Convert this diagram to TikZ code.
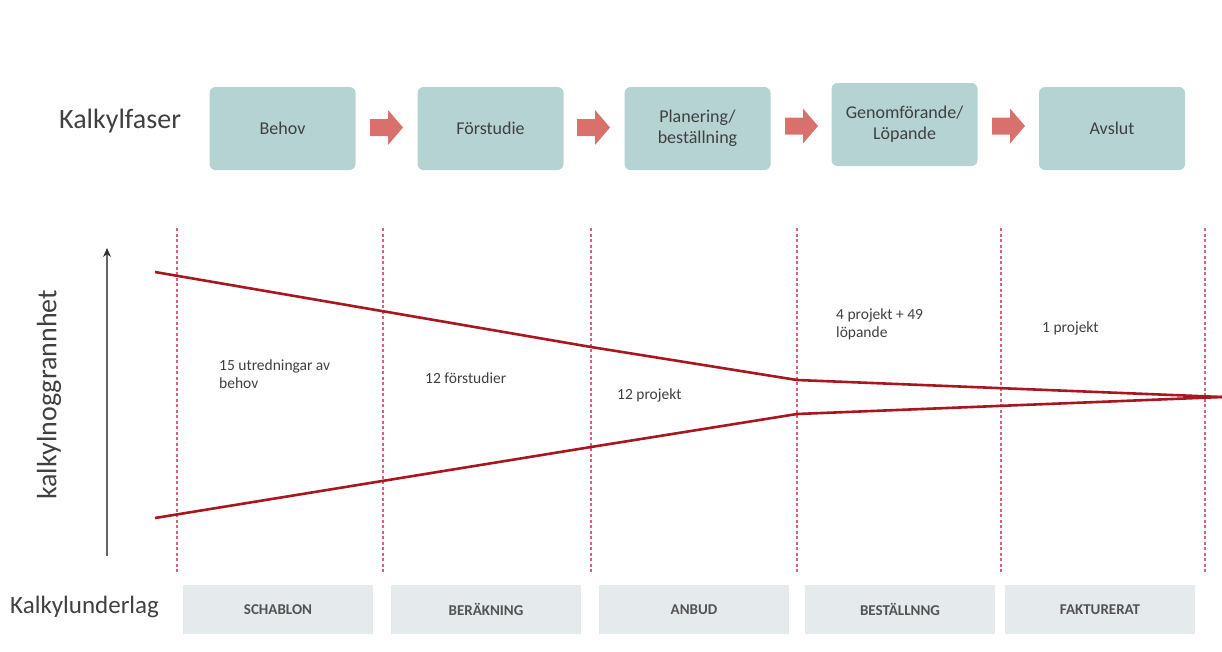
\documentclass[tikz,border=0pt]{standalone}
\usepackage{fontspec}
\setmainfont{Carlito}
\usetikzlibrary{arrows.meta}
\definecolor{phasefill}{HTML}{B4D3D2}
\definecolor{basefill}{HTML}{E5EBED}
\definecolor{arrowred}{HTML}{D8716B}
\definecolor{linered}{HTML}{A8161E}
\definecolor{dashred}{HTML}{D03A58}
\definecolor{txt}{HTML}{404040}
\tikzset{
  phase/.style={fill=phasefill, rounded corners=6pt, minimum width=146pt, minimum height=83pt, align=center, font=\fontsize{18}{21}\selectfont, text=txt, inner sep=0pt},
  base/.style={fill=basefill, minimum width=190pt, minimum height=49pt, font=\fontsize{15}{17}\selectfont\bfseries, text=txt!90, inner sep=0pt},
  blockarrow/.style={fill=arrowred},
  divider/.style={dashred!80, line width=1.1pt, dash pattern=on 3pt off 2.5pt},
  funnel/.style={linered, line width=2.6pt, line join=round},
  lbl/.style={font=\fontsize{15.5}{18}\selectfont, text=txt, align=left, anchor=north west, inner sep=0pt},
  head/.style={font=\fontsize{28}{32}\selectfont, text=txt, inner sep=0pt}
}
\begin{document}
\begin{tikzpicture}[x=1pt,y=-1pt]
\useasboundingbox (0,0) rectangle (1222,651);
% phases
\node[phase] (p1) at (282.5,128.5) {Behov};
\node[phase] (p2) at (490.5,128.5) {Förstudie};
\node[phase] (p3) at (697.5,128.5) {Planering/\\beställning};
\node[phase] (p4) at (904.5,124.5) {Genomförande/\\Löpande};
\node[phase] (p5) at (1112,128.5) {Avslut};
% block arrows
\foreach \i/\x/\y in {1/386.5/127.5,2/593.5/127.5,3/801.5/126,4/1008.5/126}{
  \coordinate (a\i) at (\x,\y);
  \fill[blockarrow, shift={(a\i)}] (-16.5,-8.5) -- (1.5,-8.5) -- (1.5,-17.5) -- (16.5,0) -- (1.5,17.5) -- (1.5,8.5) -- (-16.5,8.5) -- cycle;
}
\node[head, anchor=west] (kf) at (59,121) {Kalkylfaser};
% dividers
\foreach \i/\x in {1/177,2/383,3/591,4/797,5/1001,6/1205}{
  \coordinate (t\i) at (\x,228);
  \coordinate (b\i) at (\x,572);
  \draw[divider] (t\i) -- (b\i);
}
% funnel
\coordinate (u0) at (155,272);
\coordinate (u1) at (591,347);
\coordinate (u2) at (797,380);
\coordinate (m) at (1222,397);
\coordinate (l0) at (155,518);
\coordinate (l1) at (591,447);
\coordinate (l2) at (797,414);
\draw[funnel] (u0) -- (u1) -- (u2) -- (m);
\draw[funnel] (l0) -- (l1) -- (l2) -- (m);
% axis
\coordinate (ax0) at (107,556);
\coordinate (ax1) at (107,248);
\draw[black!60, line width=1.3pt, -{Stealth[length=9pt,width=8pt,black!80]}] (ax0) -- (ax1);
\node[head, rotate=90] (ka) at (49,395) {kalkylnoggrannhet};
% labels
\node[lbl] (s1) at (219,360) {15 utredningar av\\behov};
\node[lbl] (s2) at (425,373) {12 förstudier};
\node[lbl] (s3) at (617,389) {12 projekt};
\node[lbl] (s4) at (836,309) {4 projekt + 49\\löpande};
\node[lbl] (s5) at (1042,322) {1 projekt};
% base
\node[base] (q1) at (278,609.5) {SCHABLON};
\node[base] (q2) at (486,609.5) {BERÄKNING};
\node[base] (q3) at (694,609.5) {ANBUD};
\node[base] (q4) at (900,609.5) {BESTÄLLNNG};
\node[base] (q5) at (1100,609.5) {FAKTURERAT};
\node[head, anchor=west, font=\fontsize{25}{29}\selectfont] (ku) at (10,607) {Kalkylunderlag};
\end{tikzpicture}
\end{document}
